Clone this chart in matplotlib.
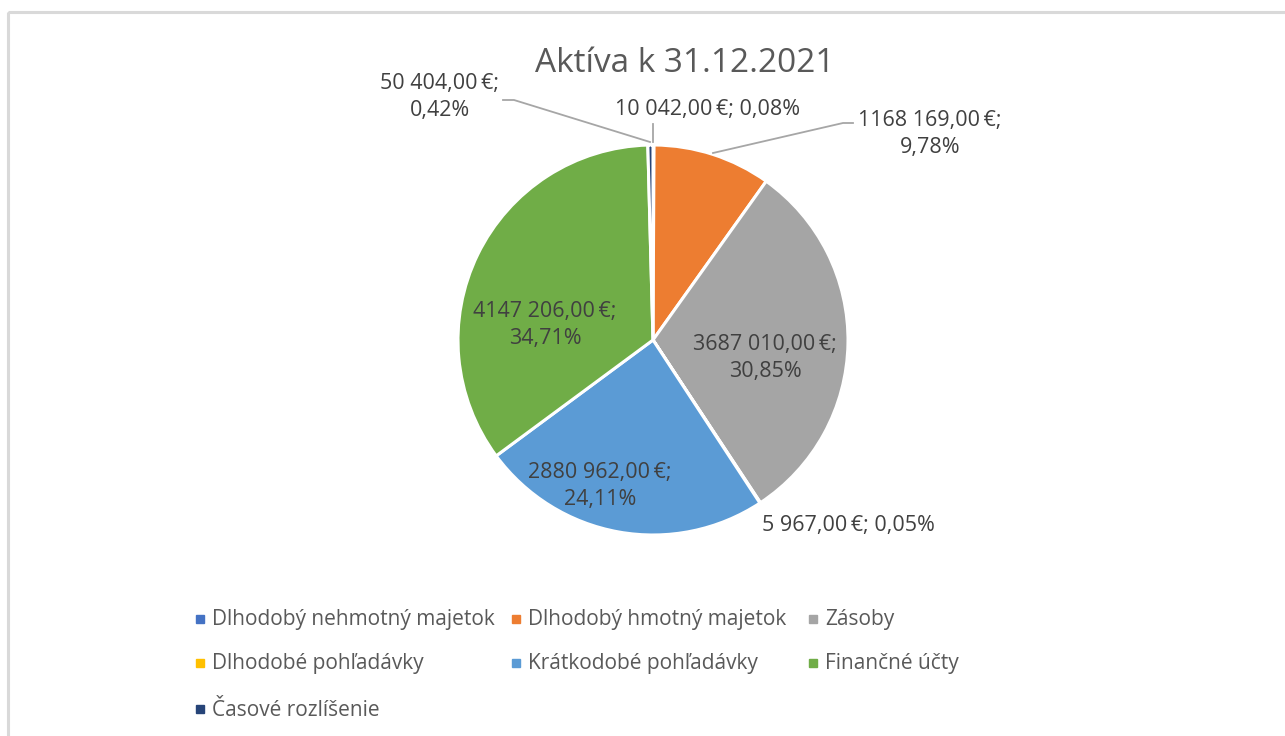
import matplotlib.pyplot as plt
from matplotlib.patches import Rectangle

# data, order as in the pie (clockwise from 12 o'clock)
categories = ['Dlhodobý nehmotný majetok', 'Dlhodobý hmotný majetok', 'Zásoby',
              'Dlhodobé pohľadávky', 'Krátkodobé pohľadávky', 'Finančné účty',
              'Časové rozlíšenie']
values = [10042.00, 1168169.00, 3687010.00, 5967.00, 2880962.00, 4147206.00, 50404.00]
colors = ['#4472C4', '#ED7D31', '#A5A5A5', '#FFC000', '#5B9BD5', '#70AD47', '#264478']
title = 'Aktíva k 31.12.2021'

W, H = 1285, 736
plt.rcParams['font.family'] = ['Open Sans', 'DejaVu Sans']


def fmt_eur(v):
    s = str(int(round(v)))
    # excel shows only the last group separated: 4147 206,00 €
    if len(s) > 3:
        s = s[:-3] + ' ' + s[-3:]
    return s + ',00\u2009€'


def fmt_pct(p):
    return ('%.2f' % p).replace('.', ',') + '%'


def main():
    fig = plt.figure(figsize=(W / 100, H / 100), dpi=100)
    ax = fig.add_axes([0, 0, 1, 1])

    # chart frame
    ax.add_patch(Rectangle((8, 12), W, H, fill=False, edgecolor='#D9D9D9', lw=2.2))

    total = sum(values)
    pcts = [v / total * 100 for v in values]
    cx, cy, r = 653, 340, 195

    # y is inverted, so counterclock=True draws clockwise on screen
    ax.pie(values, colors=colors, startangle=-90, counterclock=True,
           center=(cx, cy), radius=r, frame=True,
           wedgeprops=dict(edgecolor='white', linewidth=2.2))
    ax.set_xlim(0, W)
    ax.set_ylim(H, 0)
    ax.set_aspect('equal')
    ax.axis('off')

    # label positions (px) and whether the label sits on two lines
    lab_pos = [(708, 110, False), (930, 134, True), (765, 358, True),
               (848, 526, False), (600, 486, True), (545, 325, True), (440, 97, True)]
    for v, p, (x, y, two) in zip(values, pcts, lab_pos):
        sep = ';\n' if two else '; '
        ax.text(x, y, fmt_eur(v) + sep + fmt_pct(p), ha='center', va='center',
                fontsize=15.5, color='#404040', linespacing=1.38)

    # leader lines
    ax.plot([503, 514, 650], [100, 100, 142], color='#A6A6A6', lw=1.3)
    ax.plot([653, 653], [124, 142], color='#A6A6A6', lw=1.3)
    ax.plot([853, 843, 713], [123, 123, 153], color='#A6A6A6', lw=1.3)

    ax.text(685, 63, title, ha='center', va='center', fontsize=24, color='#595959')

    # legend, three per row
    col_x = [200, 516, 813]
    row_y = [619, 663, 709]
    for i, (name, c) in enumerate(zip(categories, colors)):
        x = col_x[i % 3]
        y = row_y[i // 3]
        ax.add_patch(Rectangle((x - 4, y - 4), 8, 8, color=c))
        ax.text(x + 12, y + 1, name, ha='left', va='center', fontsize=15, color='#595959')

    fig.savefig('out.png', dpi=100)


if __name__ == '__main__':
    main()
